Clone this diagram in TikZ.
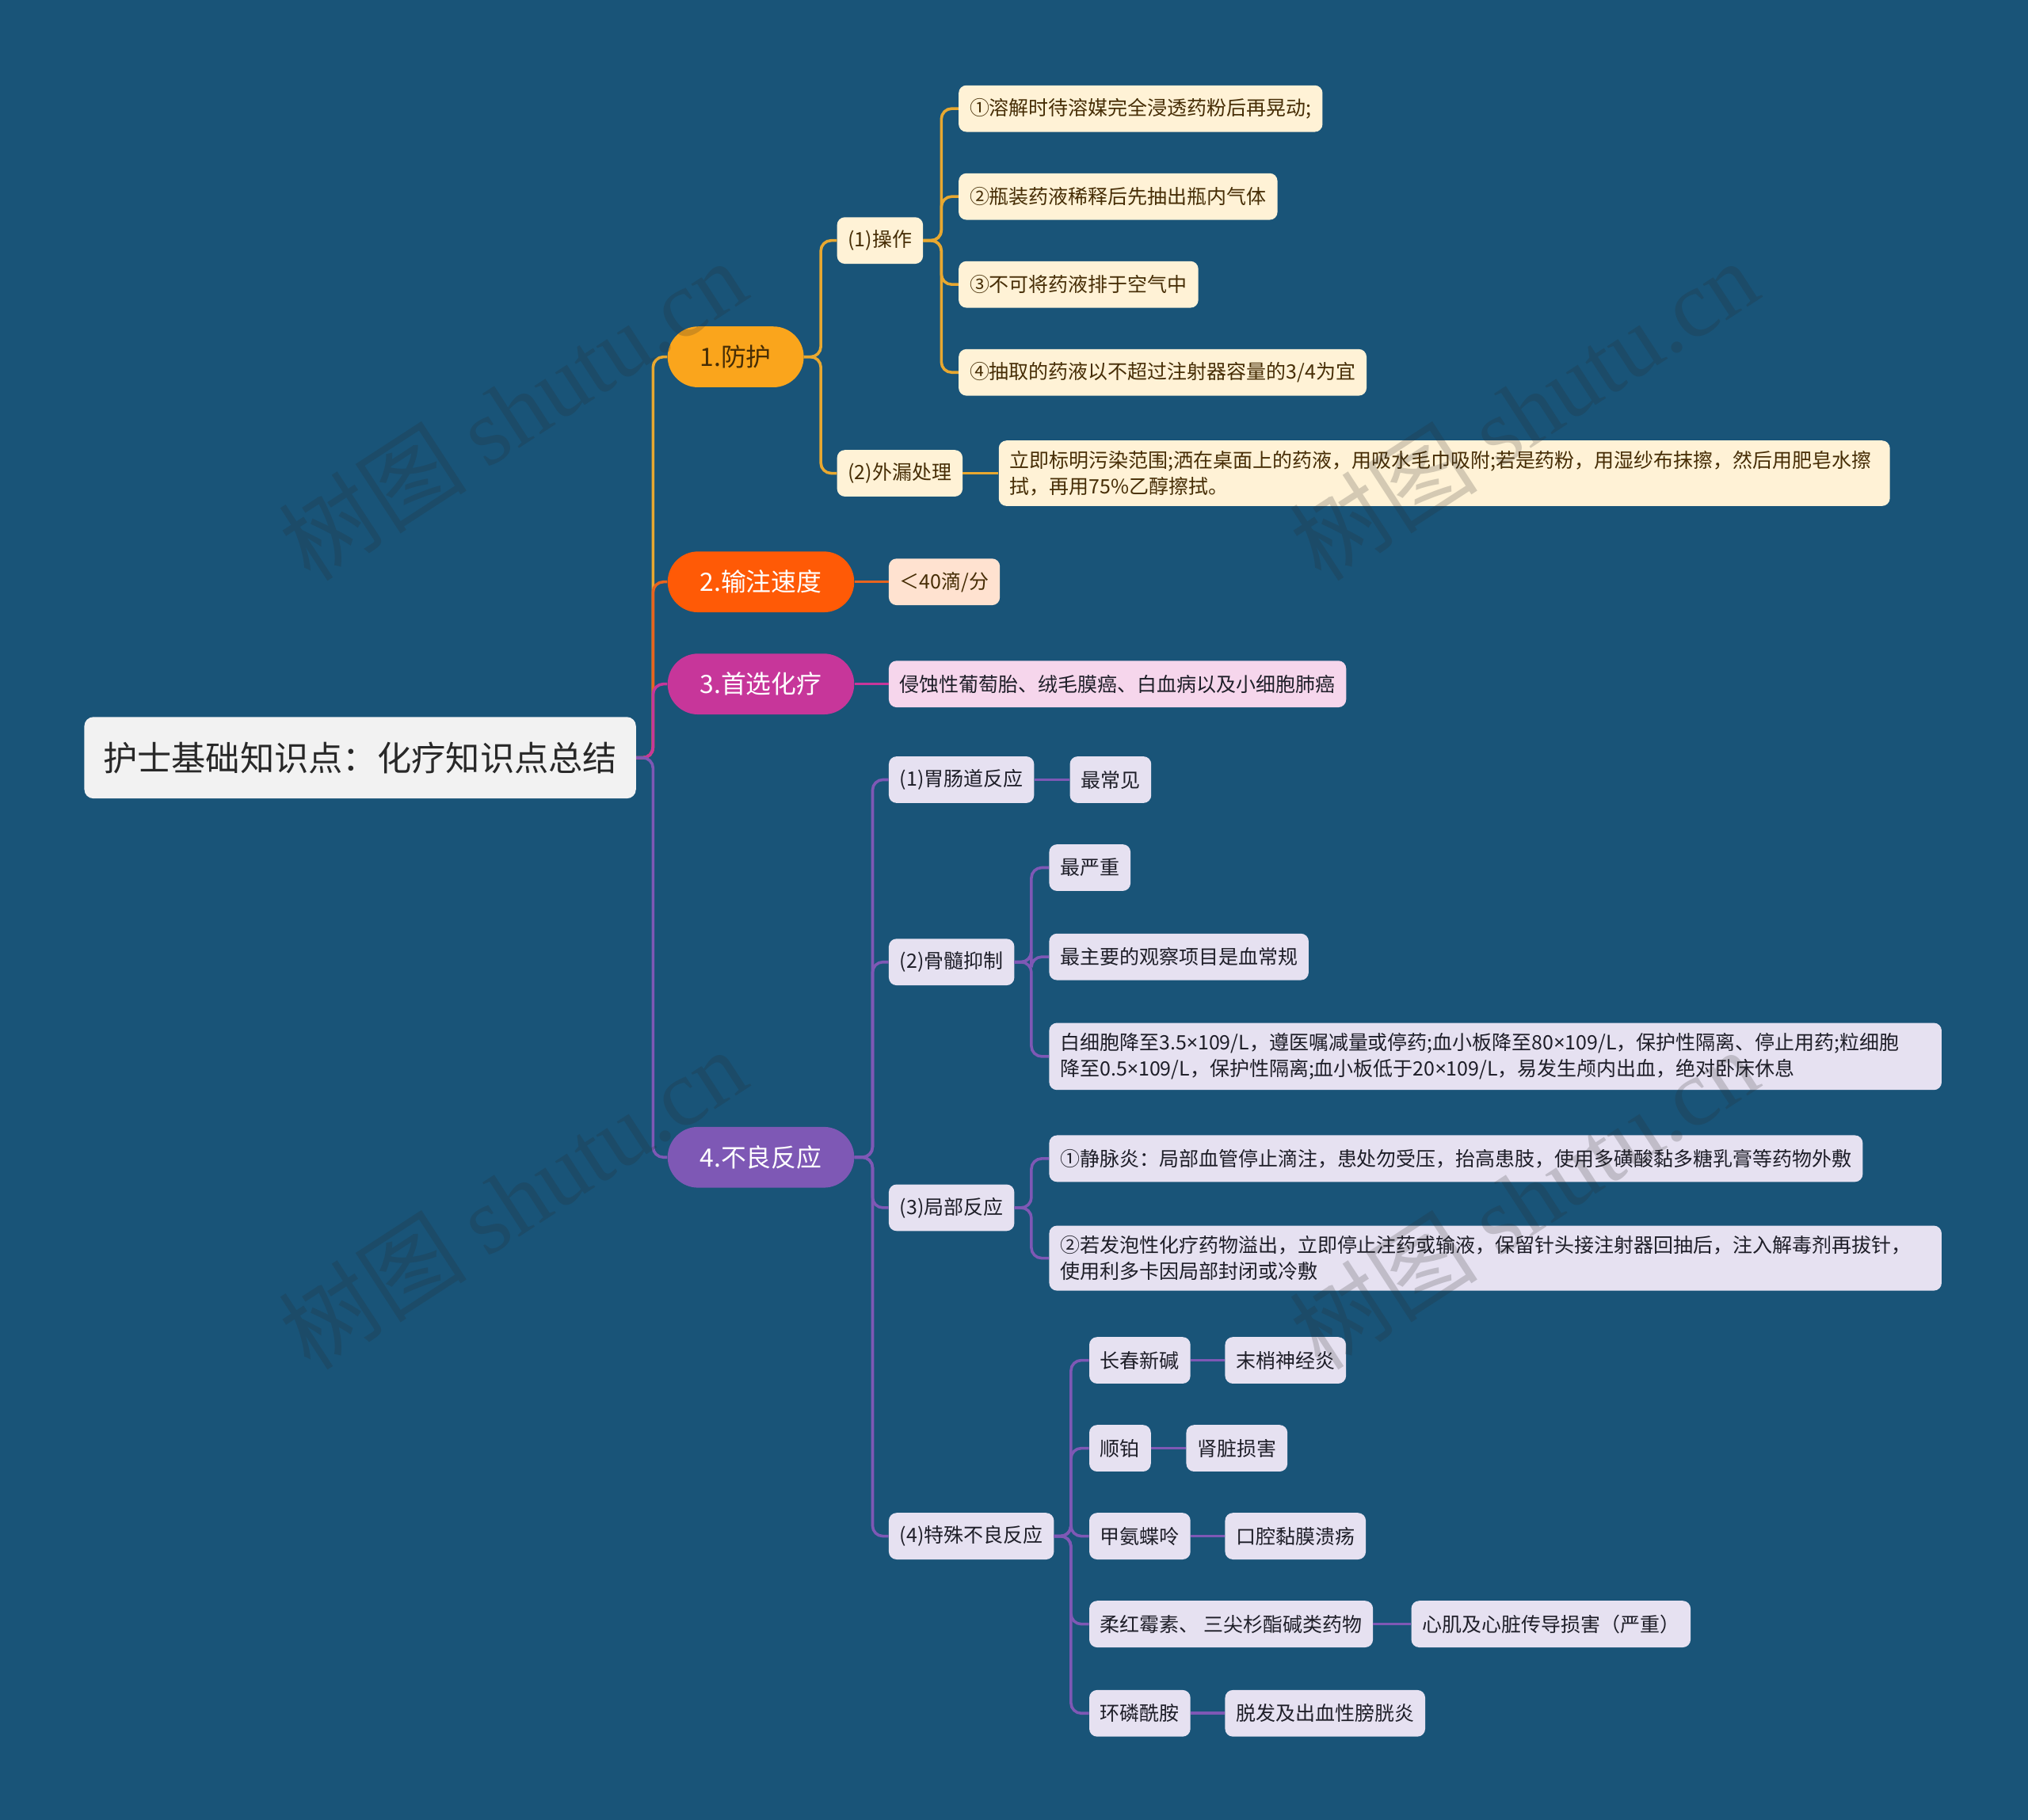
\documentclass[tikz,border=0pt]{standalone}
\usepackage{fontspec}
\setmainfont{Noto Sans CJK SC}
\newfontfamily\wmfont{Liberation Serif}
\newfontfamily\latfont{Noto Sans}
\newcommand{\tms}{{\latfont ×}}

\definecolor{bg}{RGB}{25,84,120}
\definecolor{rootfill}{RGB}{242,242,242}
\definecolor{roottext}{RGB}{40,40,40}
\definecolor{fhfill}{RGB}{250,165,28}
\definecolor{fhline}{RGB}{232,168,48}
\definecolor{fhleaf}{RGB}{255,242,214}
\definecolor{fhtext}{RGB}{70,45,5}
\definecolor{sdfill}{RGB}{255,90,6}
\definecolor{sdline}{RGB}{232,100,30}
\definecolor{sdleaf}{RGB}{255,226,208}
\definecolor{sxfill}{RGB}{199,54,154}
\definecolor{sxleaf}{RGB}{246,214,236}
\definecolor{blfill}{RGB}{126,88,181}
\definecolor{blleaf}{RGB}{230,225,241}
\definecolor{leaftext}{RGB}{30,30,40}
\definecolor{wmgray}{RGB}{40,40,40}

\tikzset{
  rootbox/.style={fill=rootfill,text=roottext,rounded corners=7pt,inner xsep=14.5pt,minimum height=63pt,anchor=west,font=\fontsize{26.5}{30}\selectfont},
  mainbox/.style={rounded corners=23.5pt,minimum height=47pt,inner xsep=25pt,anchor=west,font=\fontsize{19.5}{23}\selectfont},
  leafbox/.style={rounded corners=6pt,minimum height=36pt,inner xsep=8.5pt,inner ysep=8pt,anchor=west,align=left,font=\fontsize{15.3}{20}\selectfont},
  widebox/.style={text width=673pt},
  lnk/.style={line width=2.2pt,rounded corners=8pt},
  wmark/.style={text=wmgray,opacity=0.2,rotate=33,font=\fontsize{73}{80}\selectfont},
}

\begin{document}
\begin{tikzpicture}[x=1pt,y=-1pt]
\useasboundingbox (0,0) rectangle (1568,1407.5);
\fill[bg] (0,0) rectangle (1568,1407.5);

% root and main branches
\node[rootbox] (root) at (65,586) {护士基础知识点：化疗知识点总结};
\node[mainbox,fill=fhfill,text=fhtext] (fh) at (516,276) {1.防护};
\node[mainbox,fill=sdfill,text=white] (sd) at (516,450) {2.输注速度};
\node[mainbox,fill=sxfill,text=white] (sx) at (516,529) {3.首选化疗};
\node[mainbox,fill=blfill,text=white] (bl) at (516,895) {4.不良反应};
\draw[lnk,fhline] (root.east) -- ++(13,0) |- (fh.west);
\draw[lnk,sdline] (root.east) -- ++(13,0) |- (sd.west);
\draw[lnk,sxfill] (root.east) -- ++(13,0) |- (sx.west);
\draw[lnk,blfill] (root.east) -- ++(13,0) |- (bl.west);

% 1.防护
\begin{scope}[every node/.style={leafbox,fill=fhleaf,text=fhtext}]
\node (cz) at (647,186) {(1)操作};
\node (wl) at (647,366) {(2)外漏处理};
\node (cz1) at (741,84) {①溶解时待溶媒完全浸透药粉后再晃动;};
\node (cz2) at (741,152) {②瓶装药液稀释后先抽出瓶内气体};
\node (cz3) at (741,220) {③不可将药液排于空气中};
\node (cz4) at (741,288) {④抽取的药液以不超过注射器容量的3/4为宜};
\node[widebox,text width=672pt] (wl1) at (772,366) {立即标明污染范围;洒在桌面上的药液，用吸水毛巾吸附;若是药粉，用湿纱布抹擦，然后用肥皂水擦\\拭，再用75\%乙醇擦拭。};
\end{scope}
\foreach \n in {cz,wl} \draw[lnk,fhline] (fh.east) -- ++(13,0) |- (\n.west);
\foreach \n in {cz1,cz2,cz3,cz4} \draw[lnk,fhline] (cz.east) -- ++(14,0) |- (\n.west);
\draw[lnk,fhline] (wl.east) -- (wl1.west);

% 2. and 3.
\node[leafbox,fill=sdleaf,text=fhtext] (sd1) at (687,450) {＜40滴/分};
\draw[lnk,sdline] (sd.east) -- (sd1.west);
\node[leafbox,fill=sxleaf,text=leaftext] (sx1) at (687,529) {侵蚀性葡萄胎、绒毛膜癌、白血病以及小细胞肺癌};
\draw[lnk,sxfill] (sx.east) -- (sx1.west);

% 4.不良反应
\begin{scope}[every node/.style={leafbox,fill=blleaf,text=leaftext}]
\node (wc) at (687,603) {(1)胃肠道反应};
\node (gs) at (687,744) {(2)骨髓抑制};
\node (jb) at (687,934) {(3)局部反应};
\node (ts) at (687,1188) {(4)特殊不良反应};
\node (wc1) at (827,603) {最常见};
\node (gs1) at (811,671) {最严重};
\node (gs2) at (811,740) {最主要的观察项目是血常规};
\node[widebox] (gs3) at (811,817) {白细胞降至3.5\tms109/L，遵医嘱减量或停药;血小板降至80\tms109/L，保护性隔离、停止用药;粒细胞\\降至0.5\tms109/L，保护性隔离;血小板低于20\tms109/L，易发生颅内出血，绝对卧床休息};
\node (jb1) at (811,896) {①静脉炎：局部血管停止滴注，患处勿受压，抬高患肢，使用多磺酸黏多糖乳膏等药物外敷};
\node[widebox] (jb2) at (811,973) {②若发泡性化疗药物溢出，立即停止注药或输液，保留针头接注射器回抽后，注入解毒剂再拔针，\\使用利多卡因局部封闭或冷敷};
\node (ts1) at (842,1052) {长春新碱};
\node (ts2) at (842,1120) {顺铂};
\node (ts3) at (842,1188) {甲氨蝶呤};
\node (ts4) at (842,1256) {柔红霉素、 三尖杉酯碱类药物};
\node (ts5) at (842,1325) {环磷酰胺};
\node (ts1a) at (947,1052) {末梢神经炎};
\node (ts2a) at (917,1120) {肾脏损害};
\node (ts3a) at (947,1188) {口腔黏膜溃疡};
\node (ts4a) at (1091,1256) {心肌及心脏传导损害（严重）};
\node (ts5a) at (947,1325) {脱发及出血性膀胱炎};
\end{scope}
\foreach \n in {wc,gs,jb,ts} \draw[lnk,blfill] (bl.east) -- ++(14,0) |- (\n.west);
\draw[lnk,blfill] (wc.east) -- (wc1.west);
\foreach \n in {gs1,gs2,gs3} \draw[lnk,blfill] (gs.east) -- ++(13,0) |- (\n.west);
\foreach \n in {jb1,jb2} \draw[lnk,blfill] (jb.east) -- ++(13,0) |- (\n.west);
\foreach \n in {ts1,ts2,ts3,ts4,ts5} \draw[lnk,blfill] (ts.east) -- ++(13,0) |- (\n.west);
\foreach \n in {ts1,ts2,ts3,ts4,ts5} \draw[lnk,blfill] (\n.east) -- (\n a.west);

% watermark
\foreach \p [count=\i] in {(396,317),(1178,317),(396,927),(1178,927)}
  \node[wmark] (wm\i) at \p {树图 {\wmfont shutu.cn}};
\end{tikzpicture}
\end{document}
